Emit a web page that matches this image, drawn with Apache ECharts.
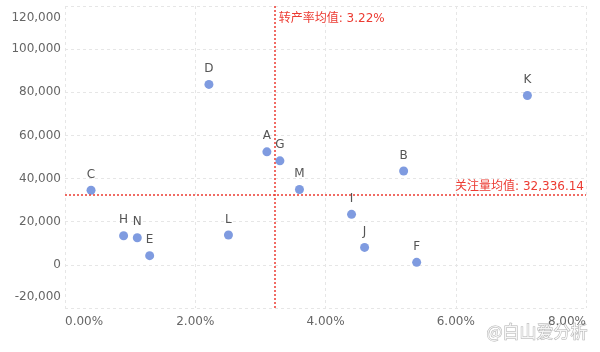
<!DOCTYPE html>
<html>
<head>
<meta charset="utf-8">
<script src="https://cdn.jsdelivr.net/npm/echarts@6/dist/echarts.min.js"></script>
<style>
  html, body { margin: 0; padding: 0; background: #fff; }
  #chart { width: 600px; height: 352px; }
</style>
</head>
<body>
<div id="chart"></div>
<script>
// 各个账号名称
const names = ['A', 'B', 'C', 'D', 'E', 'F', 'G', 'H', 'I', 'J', 'K', 'L', 'M', 'N'];
// 转产率 (%)
const rates = [3.10, 5.20, 0.40, 2.21, 1.30, 5.40, 3.30, 0.90, 4.40, 4.60, 7.10, 2.51, 3.60, 1.11];
// 关注量
const follows = [52386, 43517, 34588, 83662, 4271, 1171, 48215, 13506, 23417, 8104, 78491, 13852, 34943, 12583];
// 坐标轴刻度
const xTicks = [0, 2, 4, 6, 8];
const yTicks = [-20000, 0, 20000, 40000, 60000, 80000, 100000, 120000];

const points = names.map((n, i) => ({ name: n, value: [rates[i], follows[i]] }));

const chart = echarts.init(document.getElementById('chart'));
const fontFamily = '"DejaVu Sans", "Noto Sans CJK SC", sans-serif';
const red = '#ec3b32';
const yMin = yTicks[0];
const yMax = yTicks[yTicks.length - 1];

chart.setOption({
  animation: false,
  textStyle: { fontFamily: fontFamily },
  grid: { left: 65, right: 14, top: 6, bottom: 44 },
  xAxis: {
    type: 'value',
    min: xTicks[0],
    max: xTicks[xTicks.length - 1],
    interval: xTicks[1] - xTicks[0],
    axisLine: { show: false },
    axisTick: { show: false },
    axisLabel: {
      color: '#666',
      fontSize: 12,
      margin: 8,
      alignMinLabel: 'left',
      alignMaxLabel: 'right',
      formatter: v => v.toFixed(2) + '%'
    },
    splitLine: { lineStyle: { color: '#e6e6e6', type: [3, 3] } }
  },
  yAxis: {
    type: 'value',
    min: yMin,
    max: yMax,
    interval: yTicks[1] - yTicks[0],
    axisLine: { show: false },
    axisTick: { show: false },
    axisLabel: {
      color: '#666',
      fontSize: 12,
      margin: 4,
      verticalAlignMinLabel: 'bottom',
      verticalAlignMaxLabel: 'top',
      formatter: v => {
        const s = v.toLocaleString('en-US');
        if (v === yMax) return '{top|' + s + '}';
        if (v === yMin) return '{bot|' + s + '}';
        return s;
      },
      rich: {
        top: { color: '#666', fontSize: 12, padding: [6, 0, 0, 0] },
        bot: { color: '#666', fontSize: 12, padding: [0, 0, 5, 0] }
      }
    },
    splitLine: { lineStyle: { color: '#e6e6e6', type: [3, 3] } }
  },
  series: [
    {
      type: 'scatter',
      data: points,
      symbolSize: 9,
      itemStyle: { color: '#7f9be0', opacity: 1 },
      label: {
        show: true,
        position: 'top',
        distance: 5,
        color: '#555',
        fontSize: 12,
        formatter: p => p.name
      },
      markLine: {
        silent: true,
        symbol: 'none',
        lineStyle: { color: red, type: [2, 2], width: 1.5, opacity: 1 },
        data: [
          {
            type: 'average',
            valueIndex: 0,
            label: {
              position: 'end',
              align: 'left',
              verticalAlign: 'top',
              distance: [0, -7],
              padding: [0, 0, 0, 4],
              color: red,
              fontSize: 12,
              formatter: p => '转产率均值: ' + p.value.toFixed(2) + '%'
            }
          },
          {
            type: 'average',
            valueIndex: 1,
            label: {
              position: 'insideEndTop',
              distance: 2,
              color: red,
              fontSize: 12,
              formatter: p => '关注量均值: ' + p.value.toLocaleString('en-US', { minimumFractionDigits: 2, maximumFractionDigits: 2 })
            }
          }
        ]
      }
    }
  ],
  graphic: [
    {
      type: 'text',
      right: 12,
      bottom: 11,
      style: {
        text: '@白山爱分析',
        font: '17px "Noto Sans CJK SC"',
        fill: 'rgba(255,255,255,0.85)',
        stroke: '#b0b0b0',
        lineWidth: 1
      }
    }
  ]
});
</script>
</body>
</html>
